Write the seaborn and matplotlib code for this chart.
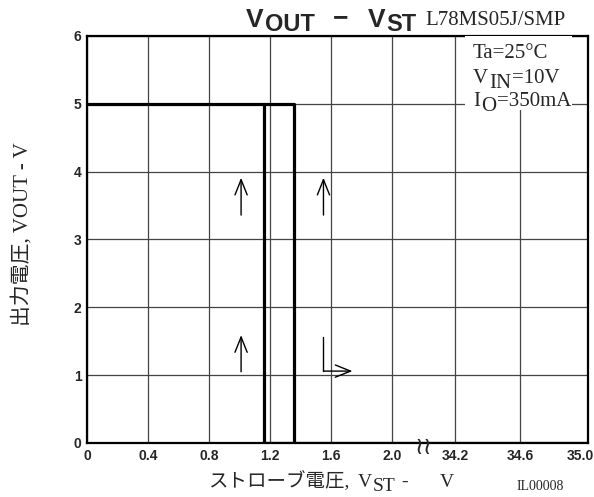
import numpy as np
import pandas as pd
import matplotlib
matplotlib.use('Agg')
import matplotlib.pyplot as plt
import seaborn as sns
from matplotlib.transforms import IdentityTransform, ScaledTranslation
from matplotlib.patches import Rectangle

# x axis is broken between 2.0 and 34.2 V
tick_vals = [0, 0.4, 0.8, 1.2, 1.6, 2.0, 34.2, 34.6, 35.0]
tick_labels = ['0', '0.4', '0.8', '1.2', '1.6', '2.0', '34.2', '34.6', '35.0']
tick_pos = [0, 1, 2, 3, 4, 5, 6.03, 7.1, 8.21]

# hysteresis branches (V_ST in volts, V_OUT in volts)
rise_vst = [0, 1.36, 1.36]
rise_vout = [5, 5, 0]
fall_vst = [1.16, 1.16, 35.0]
fall_vout = [5, 0, 0]

# direction arrows: (tail, tip)
up_arrows = [((1.01, 3.36), (1.01, 3.91)),
             ((1.01, 1.05), (1.01, 1.59)),
             ((1.55, 3.36), (1.55, 3.91))]
corner_x = [1.55, 1.55]
corner_y = [1.56, 1.06]
corner_tip = (1.74, 1.06)


def pos(v):
    return np.interp(v, tick_vals, tick_pos)


df = pd.concat([
    pd.DataFrame({'x': pos(rise_vst), 'y': rise_vout, 'branch': 'rise'}),
    pd.DataFrame({'x': pos(fall_vst), 'y': fall_vout, 'branch': 'fall'}),
])

sns.set_style('white')
plt.rcParams['font.family'] = ['Liberation Serif', 'Noto Sans CJK JP', 'DejaVu Sans']

W, H = 594, 497
fig = plt.figure(figsize=(W / 100, H / 100), dpi=100)
ax = fig.add_axes([87 / W, 1 - 443 / H, 501 / W, 407 / H])

for b, sub in df.groupby('branch'):
    sns.lineplot(data=sub, x='x', y='y', sort=False, estimator=None,
                 color='black', lw=2.3, ax=ax, zorder=5)

ax.set_xlim(0, tick_pos[-1])
ax.set_ylim(0, 6)
ax.set_xticks(tick_pos, tick_labels)
ax.set_yticks(range(7))
ax.tick_params(length=0, pad=4)
for lab in ax.get_xticklabels() + ax.get_yticklabels():
    lab.set_family('Liberation Sans')
    lab.set_fontweight('bold')
    lab.set_fontsize(10)
ax.set_xlabel('')
ax.set_ylabel('')
ax.grid(True, color='#444444', lw=0.9)
for s in ax.spines.values():
    s.set_visible(True)
    s.set_color('black')
    s.set_linewidth(1.6)

# last tick label sits at the image edge: nudge it inside
last = ax.get_xticklabels()[-1]
last.set_transform(last.get_transform() + ScaledTranslation(-8 / 100, 0, fig.dpi_scale_trans))

# white box behind the conditions text
ax.add_patch(Rectangle(((465 - 87) / 501, (443 - 110) / 407), (572 - 465) / 501, (110 - 36) / 407,
                       transform=ax.transAxes, facecolor='white', edgecolor='none', zorder=3))

arrow_kw = dict(arrowstyle='->,head_length=0.55,head_width=0.22', color='black', lw=1.0,
                mutation_scale=20, shrinkA=0, shrinkB=0)
for (tx, ty), (hx, hy) in up_arrows:
    ax.annotate('', xy=(pos(hx), hy), xytext=(pos(tx), ty), arrowprops=arrow_kw, zorder=6)
ax.plot(pos(corner_x), corner_y, color='black', lw=1.0, zorder=6)
ax.annotate('', xy=(pos(corner_tip[0]), corner_tip[1]), xytext=(pos(corner_x[1]), corner_y[1]),
            arrowprops=arrow_kw, zorder=6)

# axis break mark
ax.text((pos(2.0) + pos(34.2)) / 2, -0.06, '\u2240\u2240', family='DejaVu Sans', fontsize=17,
        ha='center', va='center', clip_on=False, zorder=7)

renderer = fig.canvas.get_renderer()


def ptext(x, y, s, size, **kw):
    return fig.text(x, H - y, s, transform=IdentityTransform(), fontsize=size,
                    ha=kw.pop('ha', 'left'), va=kw.pop('va', 'baseline'), **kw)


def chain(x, y, parts, **kw):
    # parts: (text, drop in px, size)
    for s, dy, size in parts:
        t = ptext(x, y + dy, s, size, **kw)
        x = t.get_window_extent(renderer).x1 + 1


# title
sans = dict(family='Liberation Sans', fontweight='bold')
chain(246, 27, [('V', 0, 19), ('OUT', 4, 17)], **sans)
ptext(333, 25, '\u2212', 19, **sans)
chain(368, 27, [('V', 0, 19), ('ST', 4, 17)], **sans)
ptext(425, 25, 'L78MS05J/SMP', 15)

# conditions
ptext(473, 58, 'Ta=25\u00b0C', 15)
chain(473, 83, [('V', 0, 15), ('IN', 5, 15), ('=10V', 0, 15)])
chain(473, 106, [('I', 0, 15), ('O', 5, 15), ('=350mA', 0, 15)])

# axis labels
ptext(22, 234, '出力電圧, VOUT - V', 15, rotation=90, ha='center', va='center',
      rotation_mode='anchor')
ptext(208, 487, 'ストローブ電圧,', 14)
chain(358, 487, [('V', 0, 14), ('ST', 4, 14)])
ptext(401, 487, '-', 14)
ptext(440, 487, 'V', 14)
ptext(517, 490, 'IL00008', 10)

fig.savefig('out.png', dpi=100)
